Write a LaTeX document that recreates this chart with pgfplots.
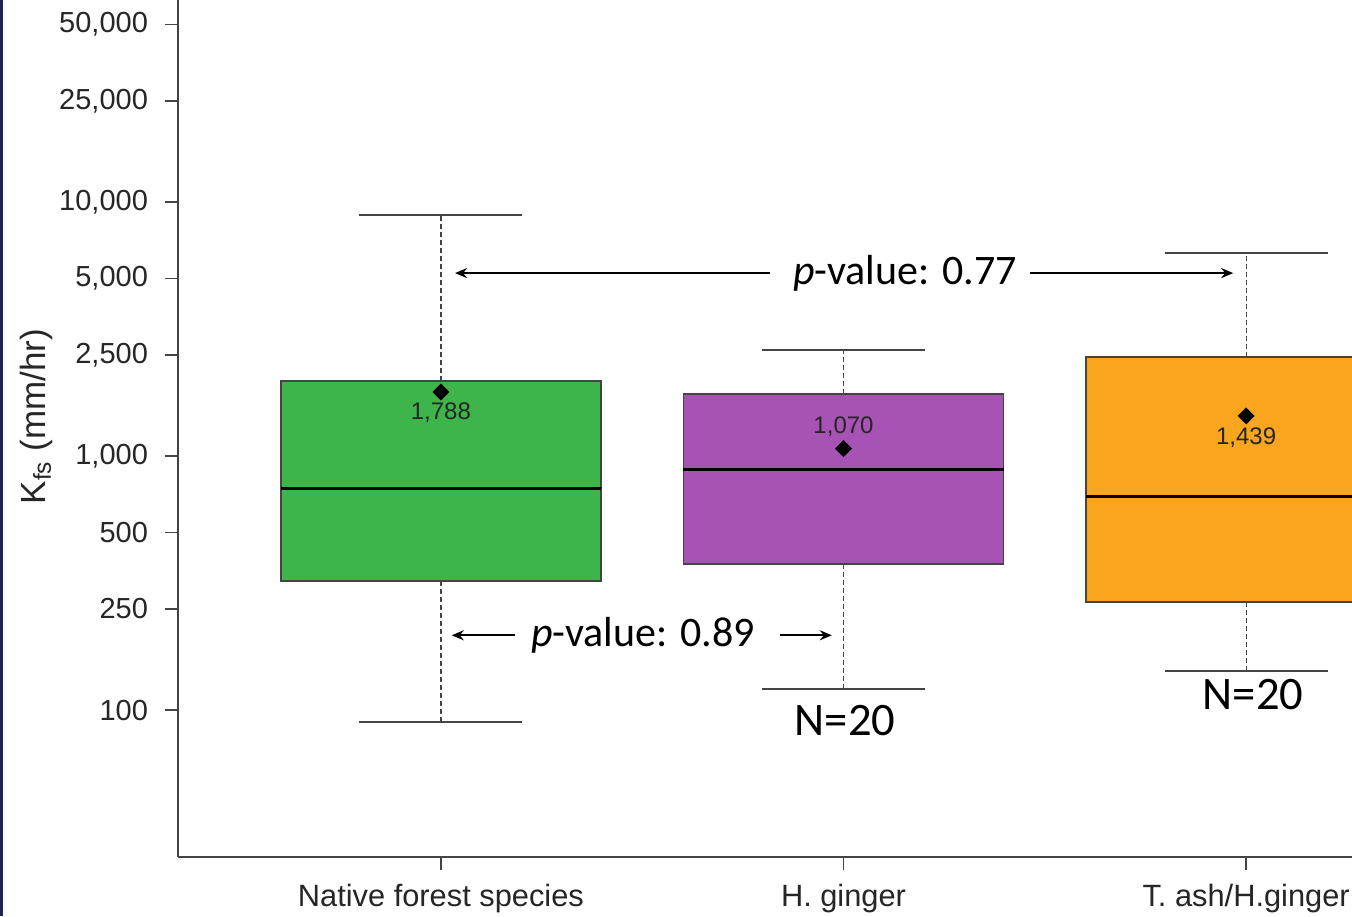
\documentclass[border=0pt]{standalone}
\usepackage{fontspec}
\setmainfont{Liberation Sans}
\newfontfamily\carl{Carlito}
\usepackage{pgfplots}
\pgfplotsset{compat=1.18}
\usetikzlibrary{arrows.meta}
\definecolor{boxgreen}{HTML}{3DB54A}
\definecolor{boxpurple}{HTML}{A752B5}
\definecolor{boxorange}{HTML}{F9A51E}
\definecolor{navy}{HTML}{1B2556}
\definecolor{axgray}{HTML}{444444}
\begin{document}
\begin{tikzpicture}
\useasboundingbox (0pt,0pt) rectangle (676pt,458pt);
\fill[white] (0pt,0pt) rectangle (676pt,458pt);
\begin{scope}
\clip (0pt,0pt) rectangle (676pt,458pt);
\begin{axis}[
  at={(89pt,29.5pt)}, anchor=south west,
  scale only axis, width=587pt, height=428.5pt,
  ymode=log, ymin=26.4, ymax=62400,
  xmin=-0.653, xmax=2.263,
  axis x line*=bottom, axis y line*=left,
  axis line style={axgray, line width=1pt},
  yminorticks=false,
  ytick={100,250,500,1000,2500,5000,10000,25000,50000},
  yticklabels={100,250,500,{1,000},{2,500},{5,000},{10,000},{25,000},{50,000}},
  xtick={0,1,2},
  xticklabels={Native forest species,H. ginger,T. ash/H.ginger},
  tick align=outside,
  major tick length=6.5pt,
  tick style={axgray, line width=0.8pt},
  yticklabel style={font=\fontsize{14.5}{16}\selectfont, text=black!85, xshift=-5pt},
  xticklabel style={font=\fontsize{15.4}{17}\selectfont, text=black!85, yshift=-3.5pt},
  ylabel={K\textsubscript{fs} (mm/hr)},
  ylabel style={at={(axis description cs:-0.121,0.514)}, anchor=center, font=\fontsize{17.5}{19}\selectfont, text=black!85},
  whisk/.style={axgray, line width=0.6pt, dash pattern=on 2.5pt off 1.5pt},
  cap/.style={axgray, line width=0.7pt},
  med/.style={black, line width=1.5pt},
]
% whiskers (dashed) and caps
\addplot[whisk] coordinates {(0,1972) (0,8890)};
\addplot[whisk] coordinates {(0,322) (0,89.7)};
\addplot[cap] coordinates {(-0.2025,8890) (0.2025,8890)};
\addplot[cap] coordinates {(-0.2025,89.7) (0.2025,89.7)};
\addplot[whisk] coordinates {(1,1754) (1,2612)};
\addplot[whisk] coordinates {(1,376) (1,121)};
\addplot[cap] coordinates {(0.7975,2612) (1.2025,2612)};
\addplot[cap] coordinates {(0.7975,121) (1.2025,121)};
\addplot[whisk] coordinates {(2,2455) (2,6295)};
\addplot[whisk] coordinates {(2,266) (2,142.6)};
\addplot[cap] coordinates {(1.7975,6295) (2.2025,6295)};
\addplot[cap] coordinates {(1.7975,142.6) (2.2025,142.6)};
% boxes (lower quartile to upper quartile)
\addplot[fill=boxgreen, draw=axgray, line width=0.7pt] coordinates {(-0.3975,322) (0.3975,322) (0.3975,1972) (-0.3975,1972)} -- cycle;
\addplot[fill=boxpurple, draw=axgray, line width=0.7pt] coordinates {(0.6025,376) (1.3975,376) (1.3975,1754) (0.6025,1754)} -- cycle;
\addplot[fill=boxorange, draw=axgray, line width=0.7pt] coordinates {(1.6025,266) (2.3975,266) (2.3975,2455) (1.6025,2455)} -- cycle;
% medians
\addplot[med] coordinates {(-0.3975,748) (0.3975,748)};
\addplot[med] coordinates {(0.6025,889) (1.3975,889)};
\addplot[med] coordinates {(1.6025,696) (2.3975,696)};
% means
\addplot[only marks, mark=square*, mark size=2.8pt, mark options={rotate=45}, black] coordinates {(0,1788) (1,1070) (2,1439)};
\node[font=\fontsize{12}{14}\selectfont, text=black!85] at (axis cs:0,1476) {1,788};
\node[font=\fontsize{12}{14}\selectfont, text=black!85] at (axis cs:1,1300) {1,070};
\node[font=\fontsize{12}{14}\selectfont, text=black!85] at (axis cs:2,1178) {1,439};
% p-value annotations
\draw[line width=1pt, -{Stealth[length=6pt,width=5pt]}] (axis cs:0.817,5250) -- (axis cs:0.035,5250);
\draw[line width=1pt, -{Stealth[length=6pt,width=5pt]}] (axis cs:1.463,5250) -- (axis cs:1.968,5250);
\node[font=\carl\fontsize{21}{24}\selectfont] at (axis cs:1.153,5250) {\textit{p}-value: 0.77};
\draw[line width=1pt, -{Stealth[length=6pt,width=5pt]}] (axis cs:0.184,197) -- (axis cs:0.027,197);
\draw[line width=1pt, -{Stealth[length=6pt,width=5pt]}] (axis cs:0.842,197) -- (axis cs:0.971,197);
\node[font=\carl\fontsize{21}{24}\selectfont] at (axis cs:0.502,197) {\textit{p}-value: 0.89};
\node[font=\carl\fontsize{23.3}{26}\selectfont] at (axis cs:1.004,91.3) {N=20};
\node[font=\carl\fontsize{23.3}{26}\selectfont] at (axis cs:2.017,114.6) {N=20};
\end{axis}
\end{scope}
\fill[navy] (0pt,0pt) rectangle (1.5pt,458pt);
\end{tikzpicture}
\end{document}
